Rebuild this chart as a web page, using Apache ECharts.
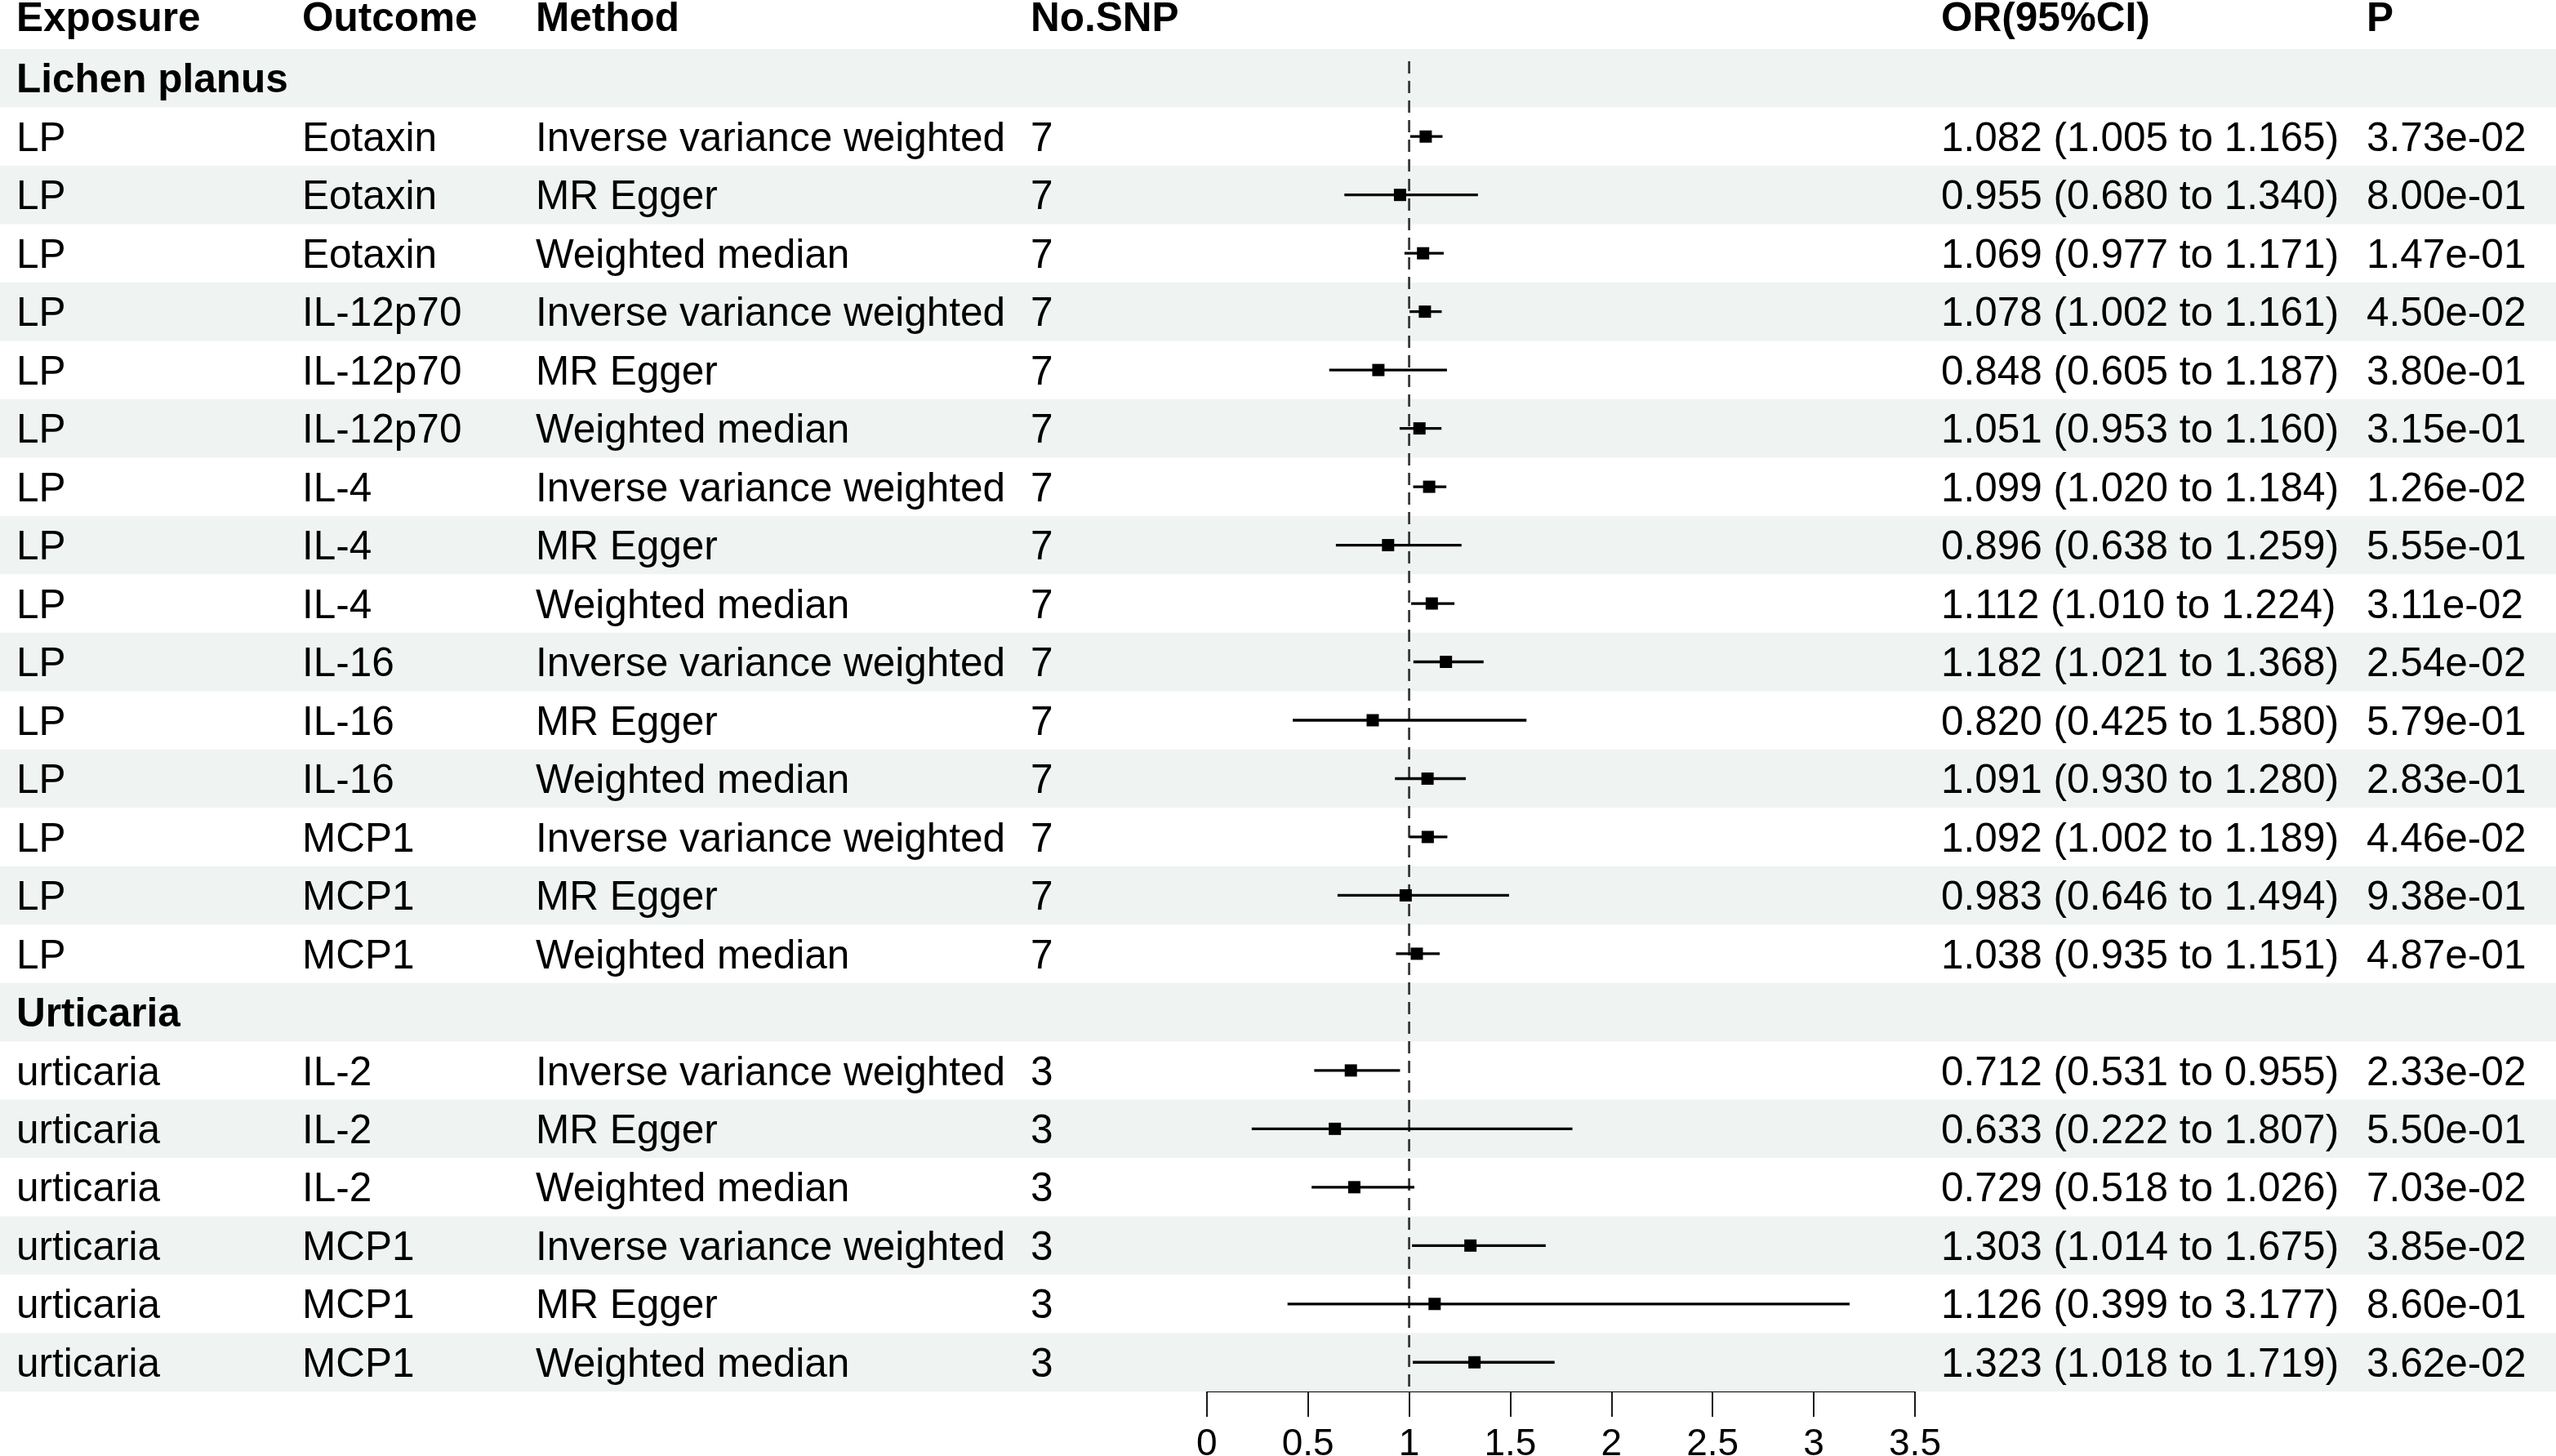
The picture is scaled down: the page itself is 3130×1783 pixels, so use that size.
<!DOCTYPE html>
<html>
<head>
<meta charset="utf-8">
<script src="https://cdn.jsdelivr.net/npm/echarts/dist/echarts.min.js"></script>
<style>
html,body{margin:0;padding:0;background:#fff;}
#chart{width:3130px;height:1783px;}
</style>
</head>
<body>
<div id="chart"></div>
<script>
// ---------------- DATA ----------------
const headers = ['Exposure', 'Outcome', 'Method', 'No.SNP', 'OR(95%CI)', 'P'];
const groups = ['Lichen planus', 'Urticaria'];
const groupSizes = [15, 6];
const exposure = ['LP','LP','LP','LP','LP','LP','LP','LP','LP','LP','LP','LP','LP','LP','LP',
  'urticaria','urticaria','urticaria','urticaria','urticaria','urticaria'];
const outcome = ['Eotaxin','Eotaxin','Eotaxin','IL-12p70','IL-12p70','IL-12p70','IL-4','IL-4','IL-4',
  'IL-16','IL-16','IL-16','MCP1','MCP1','MCP1','IL-2','IL-2','IL-2','MCP1','MCP1','MCP1'];
const method = ['Inverse variance weighted','MR Egger','Weighted median',
  'Inverse variance weighted','MR Egger','Weighted median',
  'Inverse variance weighted','MR Egger','Weighted median',
  'Inverse variance weighted','MR Egger','Weighted median',
  'Inverse variance weighted','MR Egger','Weighted median',
  'Inverse variance weighted','MR Egger','Weighted median',
  'Inverse variance weighted','MR Egger','Weighted median'];
const nSnp = [7,7,7,7,7,7,7,7,7,7,7,7,7,7,7,3,3,3,3,3,3];
const orValue = [1.082,0.955,1.069,1.078,0.848,1.051,1.099,0.896,1.112,1.182,0.820,1.091,1.092,0.983,1.038,
  0.712,0.633,0.729,1.303,1.126,1.323];
const ciLower = [1.005,0.680,0.977,1.002,0.605,0.953,1.020,0.638,1.010,1.021,0.425,0.930,1.002,0.646,0.935,
  0.531,0.222,0.518,1.014,0.399,1.018];
const ciUpper = [1.165,1.340,1.171,1.161,1.187,1.160,1.184,1.259,1.224,1.368,1.580,1.280,1.189,1.494,1.151,
  0.955,1.807,1.026,1.675,3.177,1.719];
const pValue = ['3.73e-02','8.00e-01','1.47e-01','4.50e-02','3.80e-01','3.15e-01','1.26e-02','5.55e-01','3.11e-02',
  '2.54e-02','5.79e-01','2.83e-01','4.46e-02','9.38e-01','4.87e-01',
  '2.33e-02','5.50e-01','7.03e-02','3.85e-02','8.60e-01','3.62e-02'];
const xTicks = [0, 0.5, 1, 1.5, 2, 2.5, 3, 3.5];
const refValue = 1;

// ---------------- BUILD ROWS ----------------
const rows = [];
let k = 0;
groups.forEach((g, gi) => {
  rows.push({group: g});
  for (let j = 0; j < groupSizes[gi]; j++, k++) {
    rows.push({
      cells: [exposure[k], outcome[k], method[k], String(nSnp[k]),
        orValue[k].toFixed(3) + ' (' + ciLower[k].toFixed(3) + ' to ' + ciUpper[k].toFixed(3) + ')',
        pValue[k]],
      or: orValue[k], lo: ciLower[k], hi: ciUpper[k]
    });
  }
});
const rowKeys = rows.map((r, i) => String(i));

// ---------------- LAYOUT ----------------
const FONT = "'Liberation Sans', Arial, Helvetica, sans-serif";
const FS = 49.5;
const TEXT_DY = 4;
const colX = [20, 370, 656, 1262, 2377, 2898];
const tableTop = 60, tableBottom = 79;
const forestLeft = 1477.8, forestWidth = 867.2;
const shade = '#eff3f2';

const chart = echarts.init(document.getElementById('chart'), null, {renderer: 'canvas'});

const option = {
  backgroundColor: '#ffffff',
  animation: false,
  grid: [
    {left: 0, right: 0, top: tableTop, bottom: tableBottom, containLabel: false, outerBoundsMode: 'none'},
    {left: forestLeft, width: forestWidth, top: tableTop, bottom: tableBottom, containLabel: false, outerBoundsMode: 'none'}
  ],
  xAxis: [
    {gridIndex: 0, type: 'value', min: 0, max: 1, show: false},
    {gridIndex: 1, type: 'value', min: xTicks[0], max: xTicks[xTicks.length - 1],
      interval: xTicks[1] - xTicks[0], position: 'bottom',
      axisLine: {show: true, onZero: false, lineStyle: {color: '#000', width: 1.8}},
      axisTick: {show: true, length: 31, inside: false, lineStyle: {color: '#000', width: 1.8}},
      axisLabel: {show: true, margin: 42, fontSize: 46, color: '#000', fontFamily: FONT,
        hideOverlap: false, formatter: v => String(v)},
      splitLine: {show: false}
    }
  ],
  yAxis: [
    {gridIndex: 0, type: 'category', data: rowKeys, inverse: true, show: false},
    {gridIndex: 1, type: 'category', data: rowKeys, inverse: true, show: false}
  ],
  graphic: headers.map((t, i) => ({
    type: 'text', x: colX[i], y: 24, z: 10,
    style: {text: t, fill: '#000', font: 'bold ' + FS + 'px ' + FONT, align: 'left', verticalAlign: 'middle'}
  })),
  series: [
    {
      type: 'custom', xAxisIndex: 0, yAxisIndex: 0, z: 1, silent: true,
      data: rows.map((r, i) => [0, i]),
      encode: {x: 0, y: 1},
      renderItem: function (params, api) {
        const i = params.dataIndex;
        const r = rows[i];
        const y = api.coord([0, i])[1];
        const h = api.size([0, 1])[1];
        const cs = params.coordSys;
        const children = [];
        if (i % 2 === 0) {
          children.push({type: 'rect', shape: {x: cs.x, y: y - h / 2, width: cs.width, height: h},
            style: {fill: shade}});
        }
        if (r.group) {
          children.push({type: 'text', style: {text: r.group, x: colX[0], y: y + TEXT_DY, fill: '#000',
            font: 'bold ' + FS + 'px ' + FONT, align: 'left', verticalAlign: 'middle'}});
        } else {
          r.cells.forEach((c, ci) => {
            children.push({type: 'text', style: {text: c, x: colX[ci], y: y + TEXT_DY, fill: '#000',
              font: FS + 'px ' + FONT, align: 'left', verticalAlign: 'middle'}});
          });
        }
        return {type: 'group', children: children};
      }
    },
    {
      type: 'custom', xAxisIndex: 1, yAxisIndex: 1, z: 5, silent: true,
      data: [[refValue]],
      renderItem: function (params, api) {
        const x = api.coord([api.value(0), 0])[0];
        const cs = params.coordSys;
        return {type: 'line', shape: {x1: x, y1: cs.y + 15, x2: x, y2: cs.y + cs.height - 4},
          style: {stroke: '#333', lineWidth: 2.7, lineDash: [15, 9]}};
      }
    },
    {
      type: 'custom', xAxisIndex: 1, yAxisIndex: 1, z: 6, silent: true,
      data: rows.map((r, i) => r.group ? null : [r.or, i, r.lo, r.hi]).filter(d => d),
      encode: {x: [0, 2, 3], y: 1},
      renderItem: function (params, api) {
        const row = api.value(1);
        const pLo = api.coord([api.value(2), row]);
        const pHi = api.coord([api.value(3), row]);
        const pM = api.coord([api.value(0), row]);
        const s = 15;
        return {type: 'group', children: [
          {type: 'line', shape: {x1: pLo[0], y1: pLo[1], x2: pHi[0], y2: pHi[1]},
            style: {stroke: '#000', lineWidth: 3.3}},
          {type: 'rect', shape: {x: pM[0] - s / 2, y: pM[1] - s / 2, width: s, height: s},
            style: {fill: '#000'}}
        ]};
      }
    }
  ]
};
chart.setOption(option);
</script>
</body>
</html>
